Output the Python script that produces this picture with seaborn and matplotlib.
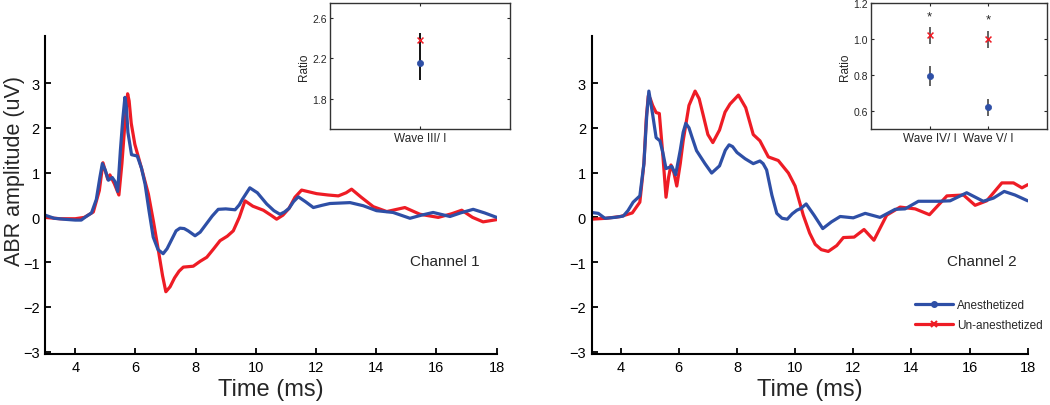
import matplotlib
matplotlib.use("Agg")
import matplotlib.pyplot as plt
from matplotlib.lines import Line2D
import seaborn as sns

# ---- data ----
# Channel 1, anesthetized (blue)
ch1_anes_t = [3.0, 3.3, 3.6, 4.0, 4.2, 4.32, 4.54, 4.7, 4.82, 4.9, 5.0, 5.1, 5.23, 5.32,
              5.41, 5.5, 5.58, 5.65, 5.7, 5.75, 5.87, 6.06, 6.2, 6.32, 6.45, 6.59, 6.75, 6.92,
              7.05, 7.2, 7.35, 7.48, 7.62, 7.75, 7.98, 8.15, 8.35, 8.55, 8.75, 9.0, 9.31,
              9.45, 9.55, 9.8, 10.05, 10.36, 10.6, 10.8, 10.95, 11.1, 11.25, 11.41, 11.65,
              11.91, 12.2, 12.46, 13.13, 13.57, 14.01, 14.56, 15.12, 15.5, 15.89, 16.45,
              16.8, 17.22, 17.6, 18.0]
ch1_anes_v = [0.05, -0.02, -0.04, -0.06, -0.06, 0.0, 0.1, 0.4, 0.9, 1.2, 1.05, 0.83, 0.89,
              0.8, 0.58, 1.5, 2.2, 2.68, 2.45, 1.9, 1.4, 1.37, 1.1, 0.74, 0.15, -0.44, -0.72,
              -0.81, -0.7, -0.5, -0.3, -0.24, -0.25, -0.3, -0.41, -0.33, -0.15, 0.03, 0.18,
              0.19, 0.17, 0.28, 0.4, 0.66, 0.55, 0.30, 0.15, 0.07, 0.12, 0.2, 0.35, 0.46,
              0.35, 0.22, 0.27, 0.31, 0.33, 0.26, 0.15, 0.11, -0.02, 0.05, 0.11, 0.02, 0.1,
              0.18, 0.1, 0.0]

# Channel 1, un-anesthetized (red)
ch1_unan_t = [3.0, 3.5, 4.0, 4.3, 4.6, 4.8, 4.92, 5.08, 5.15, 5.3, 5.45, 5.55, 5.65, 5.74,
              5.79, 5.86, 5.98, 6.2, 6.43, 6.6, 6.76, 6.9, 7.01, 7.15, 7.3, 7.45, 7.59, 7.92,
              8.15, 8.37, 8.6, 8.81, 9.05, 9.25, 9.45, 9.64, 9.9, 10.25, 10.5, 10.69, 10.9,
              11.1, 11.3, 11.52, 12.02, 12.4, 12.74, 13.0, 13.18, 13.5, 13.9, 14.35, 14.95,
              15.45, 16.06, 16.5, 16.84, 17.2, 17.55, 18.0]
ch1_unan_v = [0.0, -0.03, -0.03, 0.0, 0.12, 0.6, 1.22, 0.85, 0.95, 0.75, 0.5, 1.2, 2.1, 2.76,
              2.6, 2.1, 1.63, 1.1, 0.52, -0.1, -0.73, -1.3, -1.66, -1.55, -1.35, -1.2, -1.11,
              -1.09, -0.98, -0.89, -0.7, -0.52, -0.42, -0.30, 0.0, 0.37, 0.25, 0.16, 0.05,
              -0.04, 0.05, 0.2, 0.45, 0.61, 0.53, 0.50, 0.48, 0.55, 0.63, 0.45, 0.24, 0.13,
              0.22, 0.07, 0.0, 0.08, 0.16, 0.0, -0.10, -0.05]

# Channel 2, anesthetized (blue)
ch2_anes_t = [3.0, 3.23, 3.46, 3.8, 4.09, 4.25, 4.43, 4.66, 4.8, 4.9, 4.97, 5.05, 5.1, 5.22,
              5.35, 5.45, 5.56, 5.76, 5.89, 6.05, 6.15, 6.24, 6.35, 6.45, 6.61, 6.9, 7.13,
              7.4, 7.6, 7.73, 7.85, 8.0, 8.28, 8.56, 8.79, 8.9, 9.02, 9.2, 9.37, 9.55, 9.73,
              9.9, 10.06, 10.2, 10.38, 10.65, 10.95, 11.25, 11.55, 12.0, 12.41, 12.92, 13.44,
              13.78, 14.24, 14.93, 15.33, 15.9, 16.47, 16.82, 17.19, 17.56, 18.0]
ch2_anes_v = [0.11, 0.09, -0.02, 0.0, 0.03, 0.15, 0.34, 0.48, 1.2, 2.3, 2.82, 2.5, 2.3,
              1.78, 1.71, 1.45, 1.09, 1.14, 0.95, 1.5, 1.9, 2.10, 2.0, 1.8, 1.49, 1.2, 0.99,
              1.15, 1.5, 1.62, 1.58, 1.45, 1.31, 1.20, 1.26, 1.2, 1.06, 0.5, 0.09, -0.02,
              -0.04, 0.08, 0.16, 0.2, 0.30, 0.05, -0.25, -0.1, 0.02, -0.01, 0.09, 0.0, 0.18,
              0.19, 0.36, 0.36, 0.37, 0.55, 0.36, 0.43, 0.58, 0.50, 0.37]

# Channel 2, un-anesthetized (red)
ch2_unan_t = [3.0, 3.5, 4.0, 4.4, 4.66, 4.8, 4.88, 4.95, 5.02, 5.1, 5.22, 5.33, 5.45, 5.56,
              5.65, 5.73, 5.83, 5.93, 6.05, 6.15, 6.35, 6.56, 6.7, 6.84, 7.0, 7.17, 7.4, 7.59,
              7.76, 8.05, 8.3, 8.56, 8.79, 9.08, 9.42, 9.77, 10.0, 10.28, 10.5, 10.69, 10.9,
              11.14, 11.43, 11.66, 12.03, 12.37, 12.71, 13.15, 13.61, 14.13, 14.62, 15.22,
              15.79, 16.19, 16.59, 17.11, 17.51, 17.8, 18.0]
ch2_unan_v = [-0.04, -0.02, 0.02, 0.1, 0.34, 1.2, 2.2, 2.71, 2.65, 2.5, 2.34, 2.32, 1.4, 0.45,
              0.9, 1.17, 1.0, 0.70, 1.2, 1.71, 2.5, 2.82, 2.65, 2.28, 1.85, 1.67, 1.95, 2.35,
              2.53, 2.73, 2.45, 1.85, 1.71, 1.35, 1.27, 0.99, 0.70, 0.05, -0.35, -0.60, -0.72,
              -0.76, -0.63, -0.45, -0.44, -0.27, -0.51, 0.05, 0.23, 0.19, 0.06, 0.48, 0.50,
              0.27, 0.37, 0.77, 0.77, 0.66, 0.73]

# inset ratios: mean and error
ratio1_labels = ["Wave III/ I"]
ratio1_anes = [2.15]
ratio1_anes_err = [0.16]
ratio1_unan = [2.38]
ratio1_unan_err = [0.07]

ratio2_labels = ["Wave IV/ I", "Wave V/ I"]
ratio2_anes = [0.795, 0.62]
ratio2_anes_err = [0.055, 0.046]
ratio2_unan = [1.02, 0.998]
ratio2_unan_err = [0.048, 0.048]
ratio2_star = [1.14, 1.12]

BLUE = "#2E4FA6"
RED = "#EE1C25"

sns.set_style("white")
plt.rcParams["font.family"] = ["Liberation Sans", "DejaVu Sans"]

fig = plt.figure(figsize=(10.5, 4.06), dpi=100)
ax1 = fig.add_axes([0.0430, 0.1256, 0.4300, 0.7833])
ax2 = fig.add_axes([0.5634, 0.1256, 0.4154, 0.7833])

for ax, ta, va, tu, vu, name, tx in [
    (ax1, ch1_anes_t, ch1_anes_v, ch1_unan_t, ch1_unan_v, "Channel 1", 17.45),
    (ax2, ch2_anes_t, ch2_anes_v, ch2_unan_t, ch2_unan_v, "Channel 2", 17.63),
]:
    sns.lineplot(x=tu, y=vu, ax=ax, color=RED, lw=2.3, legend=False)
    sns.lineplot(x=ta, y=va, ax=ax, color=BLUE, lw=2.3, legend=False)
    ax.set_xlim(3, 18)
    ax.set_ylim(-3.05, 4.05)
    ax.set_xticks(range(4, 19, 2))
    ax.set_yticks(range(-3, 4))
    ax.set_yticklabels(["\u22123", "\u22122", "\u22121", "0", "1", "2", "3"])
    for s in ["top", "right"]:
        ax.spines[s].set_visible(False)
    for s in ["left", "bottom"]:
        ax.spines[s].set_color("black")
        ax.spines[s].set_linewidth(1.5)
    ax.tick_params(direction="in", length=4, width=1.3, labelsize=10.5, pad=4,
                   colors="black", bottom=True, left=True)
    ax.set_xlabel("Time (ms)", fontsize=17, labelpad=3)
    ax.set_ylabel("")
    ax.text(tx, -0.97, name, ha="right", va="center", fontsize=11)

ax1.set_ylabel("ABR amplitude (uV)", fontsize=15.5)
ax1.yaxis.set_label_coords(-0.045, 0.58)

# insets
in1 = fig.add_axes([0.3143, 0.680, 0.1714, 0.310])
in2 = fig.add_axes([0.8295, 0.680, 0.1676, 0.310])

for ax, labels, ma, ea, mu, eu, ecol in [
    (in1, ratio1_labels, ratio1_anes, ratio1_anes_err, ratio1_unan, ratio1_unan_err, "black"),
    (in2, ratio2_labels, ratio2_anes, ratio2_anes_err, ratio2_unan, ratio2_unan_err, "#555555"),
]:
    pos = list(range(1, len(labels) + 1))
    ax.errorbar(pos, ma, yerr=ea, fmt="none", ecolor=ecol, elinewidth=1.3, capsize=0)
    ax.errorbar(pos, mu, yerr=eu, fmt="none", ecolor=ecol, elinewidth=1.3, capsize=0)
    sns.scatterplot(x=pos, y=ma, ax=ax, color=BLUE, marker="o", s=20, edgecolor=BLUE,
                    linewidth=0.5, zorder=3)
    sns.scatterplot(x=pos, y=mu, ax=ax, color=RED, marker="x", s=18, linewidth=1.1, zorder=3)
    ax.set_xlim(0, len(labels) + 1)
    ax.set_xticks(pos)
    ax.set_xticklabels(labels, fontsize=8.5)
    ax.set_ylabel("Ratio", fontsize=8.5, labelpad=2)
    for s in ax.spines.values():
        s.set_color("#333333")
        s.set_linewidth(1.0)
    ax.tick_params(direction="in", length=2.5, width=0.8, top=True, right=True,
                   bottom=True, left=True, pad=2)
    ax.tick_params(axis="y", labelsize=7.5)

in1.set_ylim(1.5, 2.75)
in1.set_yticks([1.8, 2.2, 2.6])
in2.set_ylim(0.5, 1.2)
in2.set_yticks([0.6, 0.8, 1.0, 1.2])
in2.set_yticklabels(["0.6", "0.8", "1.0", "1.2"])
for x, y in zip([1, 2], ratio2_star):
    in2.text(x, y - 0.012, "*", ha="center", va="center", fontsize=9.5)

handles = [
    Line2D([], [], color=BLUE, lw=2.3, marker="o", markersize=4),
    Line2D([], [], color=RED, lw=2.3, marker="x", markersize=5, markeredgewidth=1.5),
]
fig.legend(handles, ["Anesthetized", "Un-anesthetized"], loc="upper left",
           bbox_to_anchor=(0.8714, 0.2616), frameon=False, borderpad=0, borderaxespad=0,
           handlelength=3.2, handletextpad=0.35, labelspacing=0.7, fontsize=8.5)

fig.savefig("out.png", dpi=100)
